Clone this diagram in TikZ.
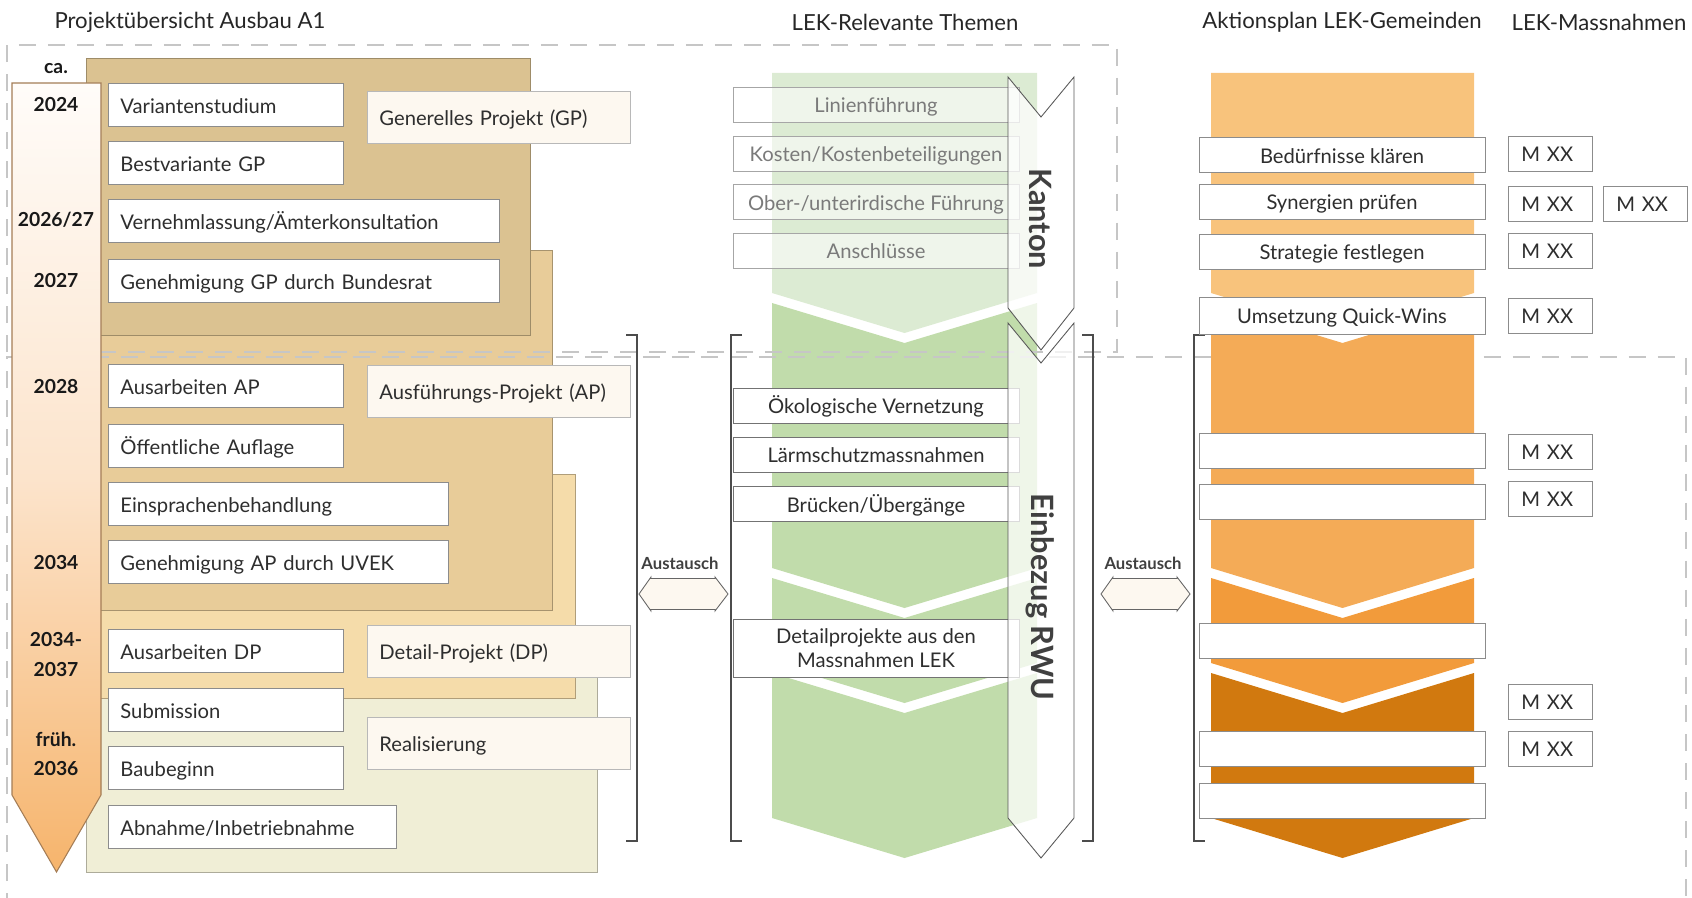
\documentclass[tikz,border=0pt]{standalone}
\usepackage{fontspec}
\setmainfont{Lato}
\usetikzlibrary{positioning}

\definecolor{pgp}{HTML}{DBC291}
\definecolor{pap}{HTML}{E8CC99}
\definecolor{pdp}{HTML}{F5DCAA}
\definecolor{preal}{HTML}{F0EED6}
\definecolor{phasefill}{HTML}{FDF8F0}
\definecolor{grnlight}{HTML}{DCEBD3}
\definecolor{grn}{HTML}{C1DCAB}
\definecolor{ora1}{HTML}{F8C37C}
\definecolor{ora2}{HTML}{F4AB57}
\definecolor{ora3}{HTML}{F29B3B}
\definecolor{ora4}{HTML}{D1790F}
\definecolor{boxline}{HTML}{8C8C8C}
\definecolor{txt}{HTML}{2E2E2E}
\definecolor{fadetxt}{HTML}{7A7A7A}
\definecolor{dashgrey}{HTML}{C6C6C6}
\definecolor{arrowline}{HTML}{A47D56}
\definecolor{yeartop}{HTML}{FFFCF9}
\definecolor{yearmid}{HTML}{FCE4CC}
\definecolor{yearbot}{HTML}{F6B46C}

\newcommand{\boxfont}{\fontsize{11.5}{13.6}\selectfont}
\newcommand{\headfont}{\fontsize{12.6}{15}\selectfont}

\tikzset{
  panel/.style={fill=#1, draw=#1!72!black, line width=0.5pt},
  dashbox/.style={draw=dashgrey, line width=0.8pt, dash pattern=on 0.34cm off 0.24cm},
  bracket/.style={draw=black!70, line width=0.7pt},
  capmid/.style={text height=1.85ex, text depth=0pt},
  stepbox/.style={draw=boxline, fill=white, line width=0.5pt, anchor=west, capmid,
    minimum height=0.86cm, inner xsep=0.24cm, inner ysep=0pt, text width=#1, align=left},
  phasebox/.style={draw=black!28, fill=phasefill, line width=0.5pt, anchor=west, capmid,
    minimum height=1.04cm, inner xsep=0.24cm, inner ysep=0pt, text width=4.78cm, align=left},
  themebase/.style={draw=black!55, fill=white, line width=0.5pt, minimum width=5.72cm,
    minimum height=0.70cm, inner sep=0pt, align=center},
  themebox/.style={themebase, capmid},
  themefade/.style={themebox, draw=black!35, fill opacity=0.55, text opacity=1, text=fadetxt},
  actbox/.style={draw=boxline, fill=white, line width=0.5pt, minimum width=5.72cm, capmid,
    minimum height=0.70cm, inner sep=0pt},
  mbox/.style={draw=boxline, fill=white, line width=0.5pt, anchor=west, capmid,
    minimum height=0.70cm, inner xsep=0.26cm, inner ysep=0pt, text width=1.16cm, align=left},
  yearlbl/.style={font=\bfseries\fontsize{11}{13}\selectfont, text=black!90},
  headlbl/.style={font=\headfont, text=black!85},
  rwuarrow/.style={draw=black!65, fill=white, fill opacity=0.75, line width=0.5pt},
  rwulbl/.style={rotate=-90, font=\bfseries\fontsize{17.5}{20}\selectfont, text=black!75},
  xchg/.style={draw=black!60, fill=phasefill, line width=0.5pt},
  xchglbl/.style={font=\bfseries\fontsize{9.5}{11}\selectfont, text=black!75}
}

\begin{document}
\begin{tikzpicture}[x=0.02cm,y=-0.02cm,every node/.style={font=\boxfont, text=txt}]
\useasboundingbox (0,0) rectangle (1692,898);

% column heads
\node[headlbl] (hprojekt) at (190,22) {Projektübersicht Ausbau A1};
\node[headlbl] (hthemen) at (905,22) {LEK-Relevante Themen};
\node[headlbl] (haktion) at (1342,22) {Aktionsplan LEK-Gemeinden};
\node[headlbl] (hmass) at (1599,22) {LEK-Massnahmen};

% phase panels
\draw[panel=preal] (86,650) rectangle (597,872);
\draw[panel=pdp] (86,474) rectangle (575,698);
\draw[panel=pap] (86,250) rectangle (552,610);
\draw[panel=pgp] (86,58) rectangle (530,335);

% green chevrons
\fill[grnlight] (772,73) -- (1037,73) -- (1037,293) -- (904.5,333) -- (772,293) -- cycle;
\foreach \yt/\yb in {303/568, 578/663, 673/818}
  \fill[grn] (772,\yt) -- (904.5,\yt+40) -- (1037,\yt) -- (1037,\yb) -- (904.5,\yb+40) -- (772,\yb) -- cycle;

% dashed frames
\draw[dashbox] (7,352) -- (7,45) -- (1117,45) -- (1117,352) -- cycle;
\draw[dashbox] (7,910) -- (7,357) -- (1686,357) -- (1686,910);

% orange chevrons
\fill[ora1] (1211,73) -- (1474,73) -- (1474,293) -- (1342.5,333) -- (1211,293) -- cycle;
\foreach \yt/\yb/\col in {303/568/ora2, 578/663/ora3, 673/818/ora4}
  \fill[\col] (1211,\yt) -- (1342.5,\yt+40) -- (1474,\yt) -- (1474,\yb) -- (1342.5,\yb+40) -- (1211,\yb) -- cycle;

% time arrow
\path[draw=arrowline, line width=0.6pt, top color=yeartop, bottom color=yearbot, middle color=yearmid]
  (12,83) -- (101,83) -- (101,795) -- (56.5,872) -- (12,795) -- cycle;
\node[yearlbl] (ca) at (56,69) {ca.};
\node[yearlbl] (y2024) at (56,105) {2024};
\node[yearlbl] (y2026) at (56,220) {2026/27};
\node[yearlbl] (y2027) at (56,281) {2027};
\node[yearlbl] (y2028) at (56,387) {2028};
\node[yearlbl] (y2034) at (56,563) {2034};
\node[yearlbl] (y2034b) at (56,640) {2034-};
\node[yearlbl] (y2037) at (56,670) {2037};
\node[yearlbl] (yfrueh) at (56,739) {früh.};
\node[yearlbl] (y2036) at (56,769) {2036};

% project steps
\node[stepbox=4.22cm] (variant) at (108,105) {Variantenstudium};
\node[stepbox=4.22cm] (bestvar) at (108,163) {Bestvariante GP};
\node[stepbox=7.34cm] (vernehm) at (108,221) {Vernehmlassung/Ämterkonsultation};
\node[stepbox=7.34cm] (gengp) at (108,281) {Genehmigung GP durch Bundesrat};
\node[stepbox=4.22cm] (ausap) at (108,386) {Ausarbeiten AP};
\node[stepbox=4.22cm] (auflage) at (108,446) {Öffentliche Auflage};
\node[stepbox=6.32cm] (einspr) at (108,504) {Einsprachenbehandlung};
\node[stepbox=6.32cm] (genap) at (108,562) {Genehmigung AP durch UVEK};
\node[stepbox=4.22cm] (ausdp) at (108,651) {Ausarbeiten DP};
\node[stepbox=4.22cm] (submis) at (108,710) {Submission};
\node[stepbox=4.22cm] (baubeg) at (108,768) {Baubeginn};
\node[stepbox=5.28cm] (abnahme) at (108,827) {Abnahme/Inbetriebnahme};

% phase names
\node[phasebox] (gp) at (367,117) {Generelles Projekt (GP)};
\node[phasebox] (ap) at (367,391) {Ausführungs-Projekt (AP)};
\node[phasebox] (dp) at (367,651) {Detail-Projekt (DP)};
\node[phasebox] (real) at (367,743) {Realisierung};

% brackets and exchange arrows
\draw[bracket] (626,335) -- (637,335) -- (637,841) -- (626,841);
\draw[bracket] (742,335) -- (731,335) -- (731,841) -- (742,841);
\draw[bracket] (1082,335) -- (1093,335) -- (1093,841) -- (1082,841);
\draw[bracket] (1205,335) -- (1194,335) -- (1194,841) -- (1205,841);
\foreach \cx in {683.5,1145.5}
  \draw[xchg] (\cx-44.5,594) -- (\cx-32.5,577) -- (\cx-32.5,578.5) -- (\cx+31.5,578.5) -- (\cx+31.5,577)
    -- (\cx+44.5,594) -- (\cx+31.5,611) -- (\cx+31.5,609.5) -- (\cx-32.5,609.5) -- (\cx-32.5,611) -- cycle;
\node[xchglbl] (xchgl) at (680,563) {Austausch};
\node[xchglbl] (xchgr) at (1143,563) {Austausch};

% LEK themes
\node[themefade] (linie) at (876,104.5) {Linienführung};
\node[themefade] (kosten) at (876,153.5) {Kosten/Kostenbeteiligungen};
\node[themefade] (oberunter) at (876,202) {Ober-/unterirdische Führung};
\node[themefade] (anschl) at (876,250.5) {Anschlüsse};
\node[themebox] (oekol) at (876,405.5) {Ökologische Vernetzung};
\node[themebox] (laerm) at (876,454.5) {Lärmschutzmassnahmen};
\node[themebox] (bruecken) at (876,504) {Brücken/Übergänge};
\node[themebase, minimum height=1.16cm] (detailp) at (876,648) {Detailprojekte aus den\\Massnahmen LEK};

% Kanton / RWU
\draw[rwuarrow] (1008,77) -- (1041,117) -- (1074,77) -- (1074,308) -- (1041,350) -- (1008,308) -- cycle;
\draw[rwuarrow] (1008,323) -- (1041,363) -- (1074,323) -- (1074,818) -- (1041,858) -- (1008,818) -- cycle;
\node[rwulbl] (kanton) at (1040,219) {Kanton};
\node[rwulbl] (rwu) at (1040,597) {Einbezug RWU};

% action plan
\node[actbox] (beduerf) at (1342,155) {Bedürfnisse klären};
\node[actbox] (synerg) at (1342,201.5) {Synergien prüfen};
\node[actbox] (strat) at (1342,251.5) {Strategie festlegen};
\node[actbox, minimum height=0.74cm] (quick) at (1342,315.5) {Umsetzung Quick-Wins};
\node[actbox] (akt5) at (1342,450.5) {};
\node[actbox] (akt6) at (1342,501.5) {};
\node[actbox] (akt7) at (1342,640.5) {};
\node[actbox] (akt8) at (1342,748.5) {};
\node[actbox] (akt9) at (1342,800.5) {};

% measures
\node[mbox] (m1) at (1508,153.5) {M XX};
\node[mbox] (m2) at (1508,203.5) {M XX};
\node[mbox, right=0.2cm of m2] (m2b) {M XX};
\node[mbox] (m3) at (1508,250.5) {M XX};
\node[mbox] (m4) at (1508,315.5) {M XX};
\node[mbox] (m5) at (1508,451.5) {M XX};
\node[mbox] (m6) at (1508,498.5) {M XX};
\node[mbox] (m7) at (1508,701.5) {M XX};
\node[mbox] (m8) at (1508,748.5) {M XX};
\end{tikzpicture}
\end{document}
